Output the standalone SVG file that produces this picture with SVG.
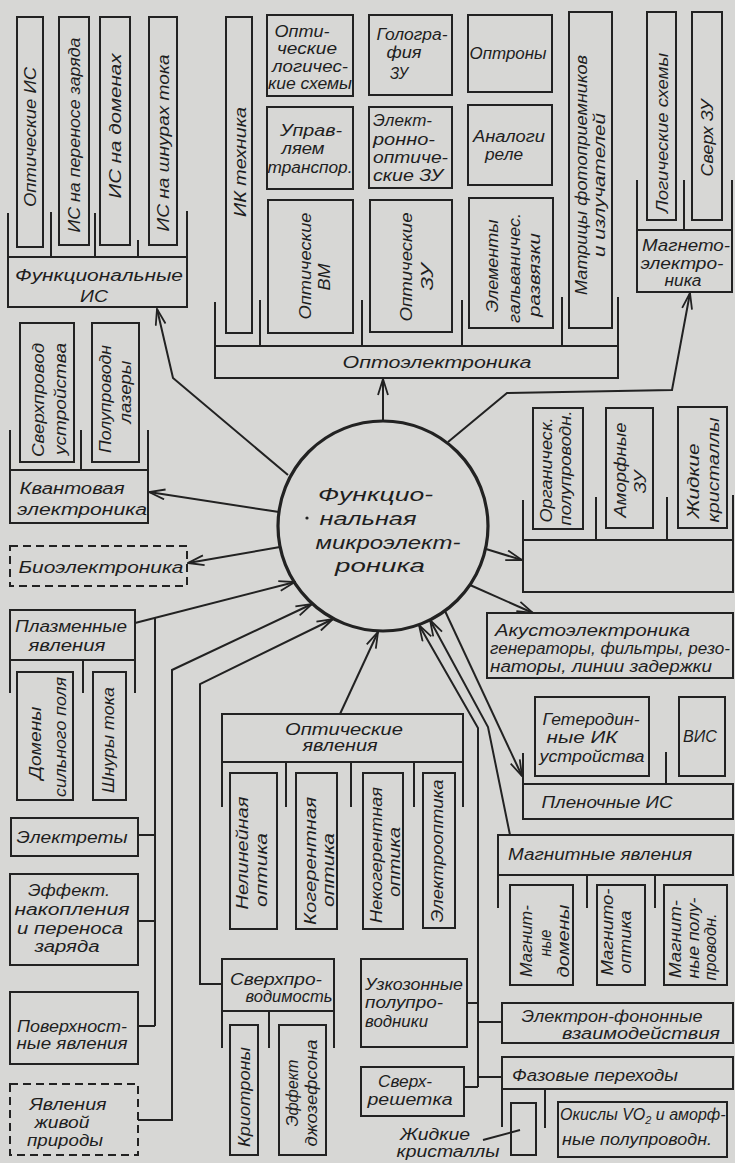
<svg xmlns="http://www.w3.org/2000/svg" width="735" height="1163" viewBox="0 0 735 1163">
<defs>
<style>
.bx{fill:none;stroke:#222;stroke-width:2}
.ds{stroke-dasharray:8 5}
.ln{fill:none;stroke:#222;stroke-width:2}
.t{font-family:"Liberation Sans","DejaVu Sans",sans-serif;font-style:italic;font-size:16px;fill:#1e1e1e}
.m{text-anchor:middle}
.r{text-anchor:middle;dominant-baseline:central}
.big{font-size:19px}
</style>
<marker id="a" markerUnits="userSpaceOnUse" markerWidth="18" markerHeight="12" refX="17" refY="6" orient="auto">
<path d="M1,1 L17,6 L1,11" fill="none" stroke="#222" stroke-width="1.8"/>
</marker>
</defs>
<rect width="735" height="1163" fill="#d7d7d5"/>

<g id="functional-is">
<rect class="bx" x="17" y="17" width="26" height="230"/>
<rect class="bx" x="59" y="17" width="30" height="228"/>
<rect class="bx" x="100" y="17" width="30" height="228"/>
<rect class="bx" x="149" y="17" width="28" height="228"/>
<rect class="bx" x="8" y="257" width="179" height="50"/>
<path class="ln" d="M8,213V257M51,212V257M95,213V257M138,240V257M187,211V257"/>
<text class="t r" transform="translate(30,137) rotate(-90)" textLength="140" lengthAdjust="spacingAndGlyphs">Оптические ИС</text>
<text class="t r" transform="translate(74,135) rotate(-90)" textLength="195" lengthAdjust="spacingAndGlyphs">ИС на переносе заряда</text>
<text class="t r" transform="translate(115,126) rotate(-90)" textLength="145" lengthAdjust="spacingAndGlyphs">ИС на доменах</text>
<text class="t r" transform="translate(163,143) rotate(-90)" textLength="177" lengthAdjust="spacingAndGlyphs">ИС на шнурах тока</text>
<text class="t m" x="99" y="281" textLength="168" lengthAdjust="spacingAndGlyphs">Функциональные</text>
<text class="t m" x="94" y="302" textLength="28" lengthAdjust="spacingAndGlyphs">ИС</text>
</g>

<g id="ik-tech">
<rect class="bx" x="226" y="17" width="26" height="316"/>
<text class="t r" transform="translate(240,162) rotate(-90)" textLength="110" lengthAdjust="spacingAndGlyphs">ИК техника</text>
</g>

<g id="optoelectronics">
<rect class="bx" x="267" y="15" width="86" height="81"/>
<text class="t m" x="302" y="37" textLength="55" lengthAdjust="spacingAndGlyphs">Опти-</text>
<text class="t m" x="307" y="54" textLength="60" lengthAdjust="spacingAndGlyphs">ческие</text>
<text class="t m" x="310" y="72" textLength="76" lengthAdjust="spacingAndGlyphs">логичес-</text>
<text class="t m" x="310" y="89" textLength="84" lengthAdjust="spacingAndGlyphs">кие схемы</text>
<rect class="bx" x="369" y="15" width="83" height="80"/>
<text class="t m" x="412" y="40" textLength="71" lengthAdjust="spacingAndGlyphs">Гологра-</text>
<text class="t m" x="404" y="58" textLength="35" lengthAdjust="spacingAndGlyphs">фия</text>
<text class="t m" x="399" y="79" textLength="18" lengthAdjust="spacingAndGlyphs">ЗУ</text>
<rect class="bx" x="468" y="15" width="84" height="77"/>
<text class="t m" x="508" y="59" textLength="77" lengthAdjust="spacingAndGlyphs">Оптроны</text>
<rect class="bx" x="267" y="107" width="86" height="82"/>
<text class="t m" x="311" y="136" textLength="62" lengthAdjust="spacingAndGlyphs">Управ-</text>
<text class="t m" x="303" y="154" textLength="43" lengthAdjust="spacingAndGlyphs">ляем</text>
<text class="t m" x="310" y="173" textLength="85" lengthAdjust="spacingAndGlyphs">транспор.</text>
<rect class="bx" x="369" y="107" width="83" height="81"/>
<text class="t" x="373" y="126" textLength="59" lengthAdjust="spacingAndGlyphs">Элект-</text>
<text class="t" x="373" y="145" textLength="62" lengthAdjust="spacingAndGlyphs">ронно-</text>
<text class="t" x="373" y="163" textLength="75" lengthAdjust="spacingAndGlyphs">оптиче-</text>
<text class="t" x="373" y="181" textLength="70" lengthAdjust="spacingAndGlyphs">ские ЗУ</text>
<rect class="bx" x="468" y="105" width="84" height="80"/>
<text class="t m" x="509" y="142" textLength="72" lengthAdjust="spacingAndGlyphs">Аналоги</text>
<text class="t m" x="504" y="160" textLength="38" lengthAdjust="spacingAndGlyphs">реле</text>
<rect class="bx" x="268" y="200" width="85" height="133"/>
<text class="t r" transform="translate(305,266) rotate(-90)" textLength="107" lengthAdjust="spacingAndGlyphs">Оптические</text>
<text class="t r" transform="translate(324,277) rotate(-90)" textLength="27" lengthAdjust="spacingAndGlyphs">ВМ</text>
<rect class="bx" x="370" y="200" width="82" height="132"/>
<text class="t r" transform="translate(406,267) rotate(-90)" textLength="109" lengthAdjust="spacingAndGlyphs">Оптические</text>
<text class="t r" transform="translate(427,277) rotate(-90)" textLength="27" lengthAdjust="spacingAndGlyphs">ЗУ</text>
<rect class="bx" x="469" y="198" width="84" height="130"/>
<text class="t r" transform="translate(492,266) rotate(-90)" textLength="93" lengthAdjust="spacingAndGlyphs">Элементы</text>
<text class="t r" transform="translate(514,268) rotate(-90)" textLength="110" lengthAdjust="spacingAndGlyphs">гальваничес.</text>
<text class="t r" transform="translate(534,275) rotate(-90)" textLength="84" lengthAdjust="spacingAndGlyphs">развязки</text>
<rect class="bx" x="569" y="12" width="43" height="316"/>
<text class="t r" transform="translate(581,175) rotate(-90)" textLength="240" lengthAdjust="spacingAndGlyphs">Матрицы фотоприемников</text>
<text class="t r" transform="translate(599,185) rotate(-90)" textLength="144" lengthAdjust="spacingAndGlyphs">и излучателей</text>
<rect class="bx" x="215" y="346" width="403" height="32"/>
<path class="ln" d="M215,302V346M260,300V346M362,300V346M462,300V346M562,297V346M618,297V346"/>
<text class="t m" x="437" y="368" textLength="189" lengthAdjust="spacingAndGlyphs">Оптоэлектроника</text>
</g>

<g id="magnetoelectronics">
<rect class="bx" x="647" y="12" width="29" height="208"/>
<rect class="bx" x="692" y="12" width="30" height="208"/>
<rect class="bx" x="637" y="230" width="95" height="62"/>
<path class="ln" d="M637,180V230M684,180V230M732,180V230"/>
<text class="t r" transform="translate(662,133) rotate(-90)" textLength="160" lengthAdjust="spacingAndGlyphs">Логические схемы</text>
<text class="t r" transform="translate(707,138) rotate(-90)" textLength="77" lengthAdjust="spacingAndGlyphs">Сверх ЗУ</text>
<text class="t m" x="686" y="251" textLength="88" lengthAdjust="spacingAndGlyphs">Магнето-</text>
<text class="t m" x="682" y="269" textLength="83" lengthAdjust="spacingAndGlyphs">электро-</text>
<text class="t m" x="683" y="286" textLength="37" lengthAdjust="spacingAndGlyphs">ника</text>
</g>

<g id="quantum">
<rect class="bx" x="20" y="323" width="54" height="139"/>
<rect class="bx" x="92" y="323" width="47" height="139"/>
<rect class="bx" x="10" y="470" width="138" height="53"/>
<path class="ln" d="M10,430V470M81,430V470M148,430V470"/>
<text class="t r" transform="translate(38,400) rotate(-90)" textLength="114" lengthAdjust="spacingAndGlyphs">Сверхпровод</text>
<text class="t r" transform="translate(60,399) rotate(-90)" textLength="112" lengthAdjust="spacingAndGlyphs">устройства</text>
<text class="t r" transform="translate(105,399) rotate(-90)" textLength="108" lengthAdjust="spacingAndGlyphs">Полупроводн</text>
<text class="t r" transform="translate(125,392) rotate(-90)" textLength="63" lengthAdjust="spacingAndGlyphs">лазеры</text>
<text class="t m" x="72" y="494" textLength="105" lengthAdjust="spacingAndGlyphs">Квантовая</text>
<text class="t m" x="82" y="515" textLength="130" lengthAdjust="spacingAndGlyphs">электроника</text>
</g>

<g id="bioelectronics">
<rect class="bx ds" x="10" y="546" width="177" height="40"/>
<text class="t m" x="101" y="573" textLength="165" lengthAdjust="spacingAndGlyphs">Биоэлектроника</text>
</g>

<g id="right-materials">
<rect class="bx" x="533" y="408" width="50" height="121"/>
<rect class="bx" x="606" y="408" width="47" height="120"/>
<rect class="bx" x="678" y="407" width="49" height="121"/>
<rect class="bx" x="523" y="540" width="210" height="52"/>
<path class="ln" d="M523,500V540M596,497V540M667,497V540M733,495V540"/>
<text class="t r" transform="translate(546,470) rotate(-90)" textLength="105" lengthAdjust="spacingAndGlyphs">Органическ.</text>
<text class="t r" transform="translate(565,468) rotate(-90)" textLength="115" lengthAdjust="spacingAndGlyphs">полупроводн.</text>
<text class="t r" transform="translate(620,470) rotate(-90)" textLength="95" lengthAdjust="spacingAndGlyphs">Аморфные</text>
<text class="t r" transform="translate(640,482) rotate(-90)" textLength="23" lengthAdjust="spacingAndGlyphs">ЗУ</text>
<text class="t r" transform="translate(693,481) rotate(-90)" textLength="75" lengthAdjust="spacingAndGlyphs">Жидкие</text>
<text class="t r" transform="translate(713,470) rotate(-90)" textLength="105" lengthAdjust="spacingAndGlyphs">кристаллы</text>
</g>

<g id="center">
<circle cx="383" cy="526" r="105" fill="none" stroke="#222" stroke-width="3.2"/>
<circle cx="307" cy="518" r="1.6" fill="#222"/>
<text class="t big" x="318" y="501" textLength="115" lengthAdjust="spacingAndGlyphs">Функцио-</text>
<text class="t big m" x="368" y="525" textLength="97" lengthAdjust="spacingAndGlyphs">нальная</text>
<text class="t big m" x="388" y="549" textLength="145" lengthAdjust="spacingAndGlyphs">микроэлект-</text>
<text class="t big m" x="380" y="572" textLength="90" lengthAdjust="spacingAndGlyphs">роника</text>
</g>

<g id="acoustoelectronics">
<rect class="bx" x="487" y="613" width="246" height="65"/>
<text class="t" x="495" y="636" textLength="195" lengthAdjust="spacingAndGlyphs">Акустоэлектроника</text>
<text class="t" x="490" y="654" textLength="240" lengthAdjust="spacingAndGlyphs">генераторы, фильтры, резо-</text>
<text class="t" x="490" y="672" textLength="222" lengthAdjust="spacingAndGlyphs">наторы, линии задержки</text>
</g>

<g id="film-is">
<rect class="bx" x="535" y="697" width="114" height="79"/>
<rect class="bx" x="679" y="697" width="46" height="79"/>
<rect class="bx" x="523" y="784" width="210" height="35"/>
<path class="ln" d="M523,753V784M666,752V784"/>
<text class="t m" x="591" y="725" textLength="97" lengthAdjust="spacingAndGlyphs">Гетеродин-</text>
<text class="t m" x="582" y="743" textLength="71" lengthAdjust="spacingAndGlyphs">ные ИК</text>
<text class="t m" x="592" y="762" textLength="105" lengthAdjust="spacingAndGlyphs">устройства</text>
<text class="t m" x="700" y="742" textLength="34" lengthAdjust="spacingAndGlyphs">ВИС</text>
<text class="t m" x="607" y="808" textLength="131" lengthAdjust="spacingAndGlyphs">Пленочные  ИС</text>
</g>

<g id="plasma">
<rect class="bx" x="10" y="610" width="125" height="50"/>
<rect class="bx" x="17" y="672" width="56" height="128"/>
<rect class="bx" x="93" y="672" width="33" height="128"/>
<path class="ln" d="M10,660V693M83,660V693M135,660V693"/>
<text class="t m" x="71" y="632" textLength="112" lengthAdjust="spacingAndGlyphs">Плазменные</text>
<text class="t m" x="67" y="651" textLength="77" lengthAdjust="spacingAndGlyphs">явления</text>
<text class="t r" transform="translate(35,743) rotate(-90)" textLength="73" lengthAdjust="spacingAndGlyphs">Домены</text>
<text class="t r" transform="translate(60,737) rotate(-90)" textLength="120" lengthAdjust="spacingAndGlyphs">сильного поля</text>
<text class="t r" transform="translate(108,740) rotate(-90)" textLength="106" lengthAdjust="spacingAndGlyphs">Шнуры тока</text>
</g>

<g id="electrets">
<rect class="bx" x="11" y="818" width="127" height="38"/>
<text class="t m" x="72" y="843" textLength="111" lengthAdjust="spacingAndGlyphs">Электреты</text>
</g>

<g id="charge-effect">
<rect class="bx" x="10" y="874" width="128" height="91"/>
<text class="t m" x="69" y="896" textLength="82" lengthAdjust="spacingAndGlyphs">Эффект.</text>
<text class="t m" x="72" y="915" textLength="115" lengthAdjust="spacingAndGlyphs">накопления</text>
<text class="t m" x="70" y="934" textLength="106" lengthAdjust="spacingAndGlyphs">и переноса</text>
<text class="t m" x="67" y="952" textLength="65" lengthAdjust="spacingAndGlyphs">заряда</text>
</g>

<g id="surface">
<rect class="bx" x="10" y="992" width="128" height="72"/>
<text class="t m" x="72" y="1032" textLength="110" lengthAdjust="spacingAndGlyphs">Поверхност-</text>
<text class="t m" x="72" y="1049" textLength="111" lengthAdjust="spacingAndGlyphs">ные явления</text>
</g>

<g id="living-nature">
<rect class="bx ds" x="10" y="1084" width="128" height="71"/>
<text class="t m" x="68" y="1110" textLength="77" lengthAdjust="spacingAndGlyphs">Явления</text>
<text class="t m" x="62" y="1128" textLength="55" lengthAdjust="spacingAndGlyphs">живой</text>
<text class="t m" x="65" y="1146" textLength="76" lengthAdjust="spacingAndGlyphs">природы</text>
</g>

<g id="optical-phenomena">
<rect class="bx" x="222" y="714" width="241" height="48"/>
<rect class="bx" x="230" y="773" width="47" height="156"/>
<rect class="bx" x="296" y="773" width="41" height="156"/>
<rect class="bx" x="363" y="773" width="40" height="156"/>
<rect class="bx" x="423" y="773" width="32" height="155"/>
<path class="ln" d="M222,762V807M286,762V807M351,762V807M414,762V807M463,762V807"/>
<text class="t m" x="344" y="735" textLength="118" lengthAdjust="spacingAndGlyphs">Оптические</text>
<text class="t m" x="340" y="751" textLength="75" lengthAdjust="spacingAndGlyphs">явления</text>
<text class="t r" transform="translate(242,853) rotate(-90)" textLength="113" lengthAdjust="spacingAndGlyphs">Нелинейная</text>
<text class="t r" transform="translate(261,870) rotate(-90)" textLength="74" lengthAdjust="spacingAndGlyphs">оптика</text>
<text class="t r" transform="translate(310,861) rotate(-90)" textLength="128" lengthAdjust="spacingAndGlyphs">Когерентная</text>
<text class="t r" transform="translate(328,870) rotate(-90)" textLength="74" lengthAdjust="spacingAndGlyphs">оптика</text>
<text class="t r" transform="translate(376,855) rotate(-90)" textLength="136" lengthAdjust="spacingAndGlyphs">Некогерентная</text>
<text class="t r" transform="translate(394,862) rotate(-90)" textLength="70" lengthAdjust="spacingAndGlyphs">оптика</text>
<text class="t r" transform="translate(437,851) rotate(-90)" textLength="143" lengthAdjust="spacingAndGlyphs">Электрооптика</text>
</g>

<g id="superconductivity">
<rect class="bx" x="222" y="959" width="112" height="52"/>
<rect class="bx" x="230" y="1025" width="28" height="130"/>
<rect class="bx" x="279" y="1025" width="47" height="130"/>
<path class="ln" d="M222,1011V1048M269,1011V1048M334,1011V1048"/>
<text class="t m" x="276" y="985" textLength="92" lengthAdjust="spacingAndGlyphs">Сверхпро-</text>
<text class="t m" x="289" y="1002" textLength="87" lengthAdjust="spacingAndGlyphs">водимость</text>
<text class="t r" transform="translate(244,1097) rotate(-90)" textLength="100" lengthAdjust="spacingAndGlyphs">Криотроны</text>
<text class="t r" transform="translate(292,1093) rotate(-90)" textLength="67" lengthAdjust="spacingAndGlyphs">Эффект</text>
<text class="t r" transform="translate(311,1093) rotate(-90)" textLength="107" lengthAdjust="spacingAndGlyphs">джозефсона</text>
</g>

<g id="narrow-gap">
<rect class="bx" x="361" y="959" width="106" height="88"/>
<text class="t" x="365" y="990" textLength="98" lengthAdjust="spacingAndGlyphs">Узкозонные</text>
<text class="t" x="365" y="1008" textLength="78" lengthAdjust="spacingAndGlyphs">полупро-</text>
<text class="t" x="365" y="1027" textLength="63" lengthAdjust="spacingAndGlyphs">водники</text>
</g>

<g id="superlattice">
<rect class="bx" x="361" y="1067" width="103" height="49"/>
<text class="t m" x="405" y="1087" textLength="54" lengthAdjust="spacingAndGlyphs">Сверх-</text>
<text class="t m" x="410" y="1105" textLength="85" lengthAdjust="spacingAndGlyphs">решетка</text>
</g>

<g id="liquid-crystals-label">
<text class="t m" x="435" y="1140" textLength="70" lengthAdjust="spacingAndGlyphs">Жидкие</text>
<text class="t m" x="448" y="1157" textLength="103" lengthAdjust="spacingAndGlyphs">кристаллы</text>
</g>

<g id="magnetic-phenomena">
<rect class="bx" x="498" y="835" width="235" height="40"/>
<rect class="bx" x="510" y="885" width="63" height="100"/>
<rect class="bx" x="597" y="885" width="48" height="100"/>
<rect class="bx" x="664" y="885" width="63" height="100"/>
<path class="ln" d="M498,875V908M587,875V908M655,875V908"/>
<text class="t" x="508" y="860" textLength="184" lengthAdjust="spacingAndGlyphs">Магнитные явления</text>
<text class="t r" transform="translate(526,941) rotate(-90)" textLength="72" lengthAdjust="spacingAndGlyphs">Магнит-</text>
<text class="t r" transform="translate(545,943) rotate(-90)" textLength="27" lengthAdjust="spacingAndGlyphs">ные</text>
<text class="t r" transform="translate(563,941) rotate(-90)" textLength="73" lengthAdjust="spacingAndGlyphs">домены</text>
<text class="t r" transform="translate(607,932) rotate(-90)" textLength="87" lengthAdjust="spacingAndGlyphs">Магнито-</text>
<text class="t r" transform="translate(625,942) rotate(-90)" textLength="63" lengthAdjust="spacingAndGlyphs">оптика</text>
<text class="t r" transform="translate(675,939) rotate(-90)" textLength="78" lengthAdjust="spacingAndGlyphs">Магнит-</text>
<text class="t r" transform="translate(693,938) rotate(-90)" textLength="81" lengthAdjust="spacingAndGlyphs">ные полу-</text>
<text class="t r" transform="translate(710,947) rotate(-90)" textLength="67" lengthAdjust="spacingAndGlyphs">проводн.</text>
</g>

<g id="electron-phonon">
<rect class="bx" x="502" y="1003" width="231" height="40"/>
<text class="t m" x="612" y="1022" textLength="181" lengthAdjust="spacingAndGlyphs">Электрон-фононные</text>
<text class="t m" x="641" y="1039" textLength="158" lengthAdjust="spacingAndGlyphs">взаимодействия</text>
</g>

<g id="phase-transitions">
<rect class="bx" x="502" y="1057" width="231" height="32"/>
<path class="ln" d="M502,1089V1127M545,1089V1128"/>
<rect class="bx" x="511" y="1103" width="25" height="52"/>
<rect class="bx" x="558" y="1102" width="169" height="55"/>
<text class="t" x="512" y="1081" textLength="166" lengthAdjust="spacingAndGlyphs">Фазовые переходы</text>
<text class="t" x="560" y="1120">Окислы VO<tspan font-size="11" dy="4">2</tspan><tspan dy="-4"> и аморф-</tspan></text>
<text class="t" x="562" y="1145" textLength="150" lengthAdjust="spacingAndGlyphs">ные полупроводн.</text>
</g>

<g id="connectors" class="ln">
<path d="M288,475L173,378L157,309" marker-end="url(#a)"/>
<path d="M383,421V379" marker-end="url(#a)"/>
<path d="M448,442L507,393L672,390L690,293" marker-end="url(#a)"/>
<path d="M279,512L149,492" marker-end="url(#a)"/>
<path d="M280,547L188,563" marker-end="url(#a)"/>
<path d="M486,549L522,560" marker-end="url(#a)"/>
<path d="M470,585L533,613" marker-end="url(#a)"/>
<path d="M445,611L522,776" marker-end="url(#a)"/>
<path d="M510,835L488,727L430,620" marker-end="url(#a)"/>
<path d="M478,1087V728L419,625" marker-end="url(#a)"/>
<path d="M340,714L378,632" marker-end="url(#a)"/>
<path d="M135,623L295,582" marker-end="url(#a)"/>
<path d="M155,618V1026M138,835H155M138,921H155M138,1026H155"/>
<path d="M138,1120H172V670L312,604" marker-end="url(#a)"/>
<path d="M222,984H200V684L333,619" marker-end="url(#a)"/>
<path d="M467,1003H478M478,1022H502M478,1077H502M464,1087H478"/>
<path d="M483,1140L520,1130"/>
</g>
</svg>
